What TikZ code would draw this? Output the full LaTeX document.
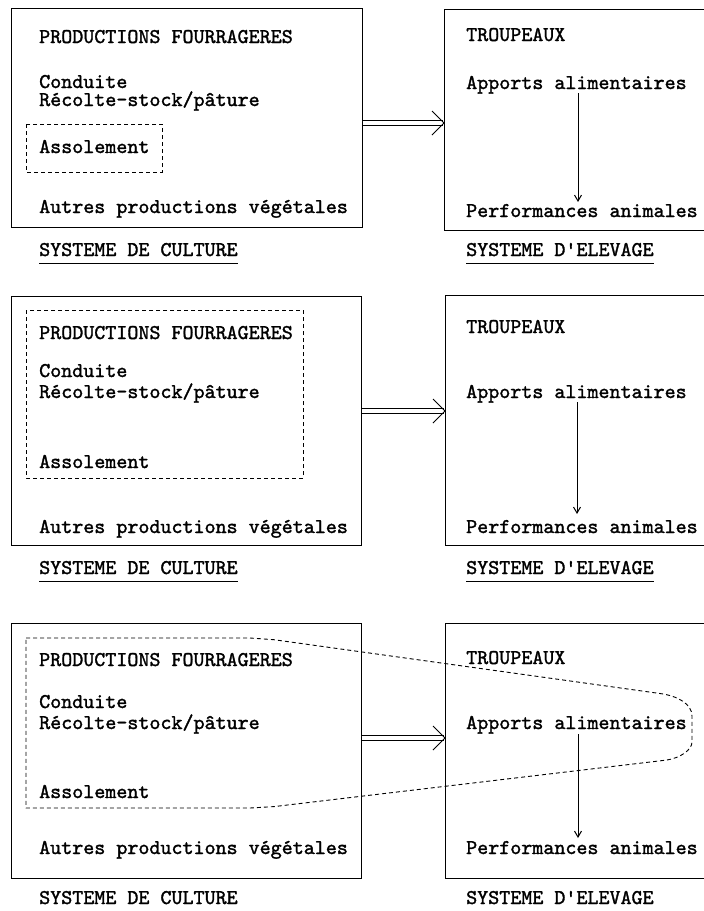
\documentclass[tikz,border=0pt]{standalone}
\usepackage{fontspec}
\newfontfamily\twfont{lmmono10-regular.otf}[FakeBold=1.5]
\usetikzlibrary{arrows.meta}
\begin{document}
\begin{tikzpicture}[x=1pt,y=-1pt,
  frame/.style={draw, line width=1.2pt, anchor=north west, inner sep=0pt},
  txt/.style={anchor=base west, inner sep=0pt, text height=13pt, text depth=3pt, font=\twfont\fontsize{21}{25}\selectfont},
  dashline/.style={line width=0.9pt, dash pattern=on 4pt off 3pt},
  varrow/.style={line width=1pt, -{Straight Barb[length=6pt,width=7pt]}},
  dblarrow/.style={double, double distance=4pt, line width=0.9pt, shorten <=0.6pt, shorten >=0.6pt},
  chev/.style={line width=1pt},
  uline/.style={line width=0.9pt}]
\useasboundingbox (0,0) rectangle (704,911);
\clip (0,0) rectangle (704,911);

% ---------- panel 1 ----------
\node[frame, minimum width=351pt, minimum height=219pt] (L1) at (11,8) {};
\node[frame, minimum width=280pt, minimum height=221pt] (R1) at (444,9) {};
\node[txt] (pf1) at (39,43) {PRODUCTIONS FOURRAGERES};
\node[txt] (co1) at (39,88) {Conduite};
\node[txt] (re1) at (39,106) {Récolte-stock/pâture};
\node[txt] (as1) at (39,153) {Assolement};
\node[txt] (au1) at (39,213) {Autres productions végétales};
\draw[dashline] (26,124) rectangle (162,172);
\node[txt] (tr1) at (466,41) {TROUPEAUX};
\node[txt] (ap1) at (466,89) {Apports alimentaires};
\node[txt] (pe1) at (466,217) {Performances animales};
\node[txt] (sc1) at (39,256) {SYSTEME DE CULTURE};
\node[txt] (se1) at (466,256) {SYSTEME D\textquotesingle ELEVAGE};
\draw[uline] ([yshift=-7pt]sc1.base west) -- ([yshift=-7pt]sc1.base east);
\draw[uline] ([yshift=-7pt]se1.base west) -- ([yshift=-7pt]se1.base east);
\coordinate (d1) at (362,123);
\coordinate (t1) at (d1 -| R1.west);
\draw[dblarrow] (d1) -- (t1);
\draw[chev] (t1) ++(-12,-12) -- (t1) -- ++(-12,12);
\coordinate (v1) at (578,93);
\coordinate (w1) at (578,202);
\draw[varrow] (v1) -- (w1);

% ---------- panel 2 ----------
\node[frame, minimum width=350pt, minimum height=249pt] (L2) at (11,296) {};
\node[frame, minimum width=280pt, minimum height=250pt] (R2) at (445,295) {};
\draw[dashline] (26,310) rectangle (303,478);
\node[txt] (pf2) at (39,339) {PRODUCTIONS FOURRAGERES};
\node[txt] (co2) at (39,377) {Conduite};
\node[txt] (re2) at (39,398) {Récolte-stock/pâture};
\node[txt] (as2) at (39,468) {Assolement};
\node[txt] (au2) at (39,533) {Autres productions végétales};
\node[txt] (tr2) at (466,333) {TROUPEAUX};
\node[txt] (ap2) at (466,398) {Apports alimentaires};
\node[txt] (pe2) at (466,533) {Performances animales};
\node[txt] (sc2) at (39,574) {SYSTEME DE CULTURE};
\node[txt] (se2) at (466,574) {SYSTEME D\textquotesingle ELEVAGE};
\draw[uline] ([yshift=-7pt]sc2.base west) -- ([yshift=-7pt]sc2.base east);
\draw[uline] ([yshift=-7pt]se2.base west) -- ([yshift=-7pt]se2.base east);
\coordinate (d2) at (361,411);
\coordinate (t2) at (d2 -| R2.west);
\draw[dblarrow] (d2) -- (t2);
\draw[chev] (t2) ++(-12,-12) -- (t2) -- ++(-12,12);
\coordinate (v2) at (577,402);
\coordinate (w2) at (577,514);
\draw[varrow] (v2) -- (w2);

% ---------- panel 3 ----------
\node[frame, minimum width=350pt, minimum height=255pt] (L3) at (11,623) {};
\node[frame, minimum width=280pt, minimum height=255pt] (R3) at (445,623) {};
\node[txt] (pf3) at (39,666) {PRODUCTIONS FOURRAGERES};
\node[txt] (co3) at (39,708) {Conduite};
\node[txt] (re3) at (39,729) {Récolte-stock/pâture};
\node[txt] (as3) at (39,798) {Assolement};
\node[txt] (au3) at (39,854) {Autres productions végétales};
\node[txt] (tr3) at (466,664) {TROUPEAUX};
\node[txt] (ap3) at (466,729) {Apports alimentaires};
\node[txt] (pe3) at (466,854) {Performances animales};
\node[txt] (sc3) at (39,904) {SYSTEME DE CULTURE};
\node[txt] (se3) at (466,904) {SYSTEME D\textquotesingle ELEVAGE};
\draw[dashline] (26,638) -- (250,638) .. controls (262,638) .. (274,639.7)
  -- (660,693.5) .. controls (678,696) and (692,704) .. (692,716)
  -- (692,742) .. controls (692,750) and (680,758) .. (667,760)
  -- (274,806.6) .. controls (262,808) .. (250,808) -- (26,808) -- cycle;
\coordinate (d3) at (361,738);
\coordinate (t3) at (d3 -| R3.west);
\draw[dblarrow] (d3) -- (t3);
\draw[chev] (t3) ++(-12,-12) -- (t3) -- ++(-12,12);
\coordinate (v3) at (578,734);
\coordinate (w3) at (578,838);
\draw[varrow] (v3) -- (w3);
\end{tikzpicture}
\end{document}
